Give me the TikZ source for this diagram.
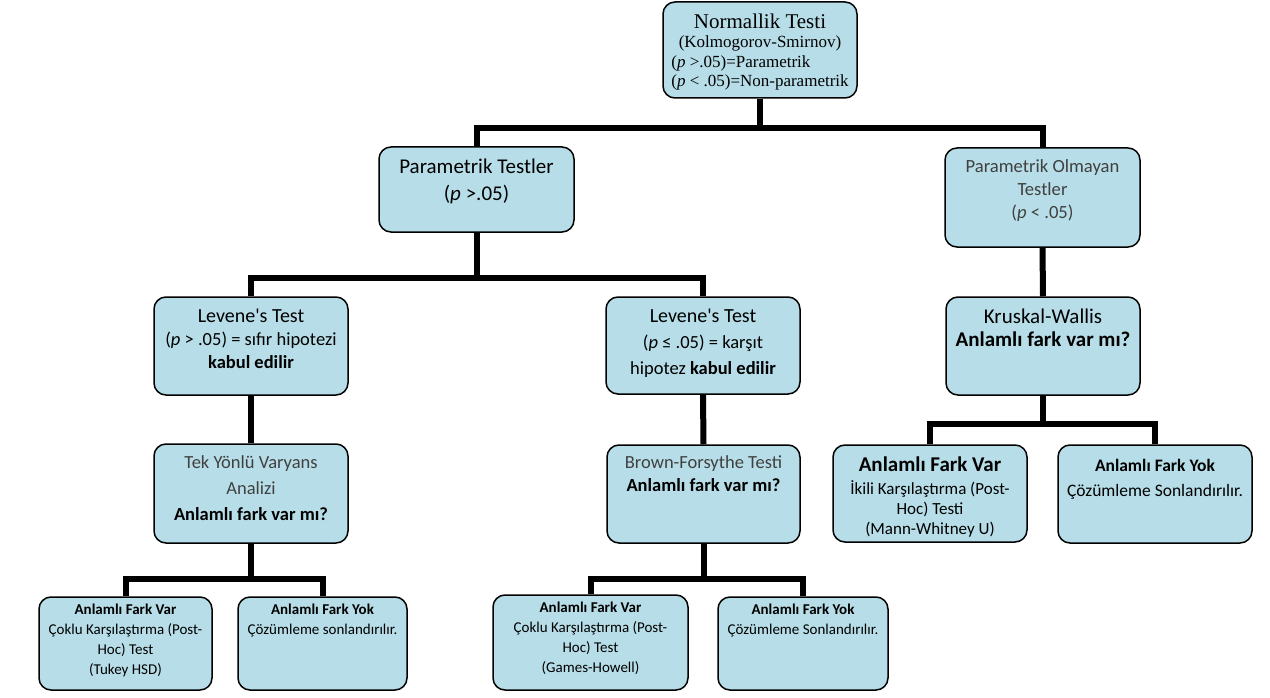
\documentclass[tikz,border=0pt]{standalone}
\usepackage{fontspec}
\setmainfont{Carlito}
\newfontfamily\tnr{Liberation Serif}
\usetikzlibrary{positioning}

\definecolor{kutumavi}{HTML}{B7DEE8}
\definecolor{koyugri}{HTML}{404040}

\newcommand{\boyut}[2]{\fontsize{#1}{#2}\selectfont}

\tikzset{
  kutu/.style={draw=black, line width=1.5pt, rounded corners=12pt, fill=kutumavi, inner sep=0pt},
  yazi/.style={align=center, inner sep=0pt, text=black},
  baglanti/.style={draw=black, line width=6pt}
}

\begin{document}
\begin{tikzpicture}[x=1pt, y=-1pt]
\useasboundingbox (0,0) rectangle (1270,698);

% Kutular
\node[kutu, minimum width=194pt, minimum height=96pt] (norm) at (760,50) {};
\node[kutu, minimum width=195pt, minimum height=85pt] (param) at (476.5,189.5) {};
\node[kutu, minimum width=195pt, minimum height=99pt] (nonparam) at (1042.5,197.5) {};
\node[kutu, minimum width=194pt, minimum height=98pt] (lev1) at (251,346) {};
\node[kutu, minimum width=194pt, minimum height=97pt] (lev2) at (703,345.5) {};
\node[kutu, minimum width=194pt, minimum height=98pt] (kw) at (1043,346) {};
\node[kutu, minimum width=194pt, minimum height=99pt] (anova) at (251,493.5) {};
\node[kutu, minimum width=193pt, minimum height=98pt] (bf) at (703.5,494) {};
\node[kutu, minimum width=194pt, minimum height=97pt] (kwvar) at (930,493.5) {};
\node[kutu, minimum width=194pt, minimum height=98pt] (kwyok) at (1155,494) {};
\node[kutu, minimum width=173pt, minimum height=93pt] (t1var) at (125.5,643.5) {};
\node[kutu, minimum width=169pt, minimum height=93pt] (t1yok) at (322.5,643.5) {};
\node[kutu, minimum width=195pt, minimum height=95pt] (t2var) at (590.5,642.5) {};
\node[kutu, minimum width=170pt, minimum height=93pt] (t2yok) at (803,643.5) {};

% Yazilar
\node[yazi, font=\tnr\boyut{17}{19.5}, below=12pt of norm.north] (normy)
  {{\boyut{21}{23}Normallik Testi}\\ (Kolmogorov-Smirnov)\\
   \begin{tabular}[t]{@{}l@{}}(\textit{p} >.05)=Parametrik\\(\textit{p} < .05)=Non-parametrik\end{tabular}};
\node[yazi, font=\boyut{21}{27}, below=12pt of param.north] (paramy)
  {Parametrik Testler\\(\textit{p} >.05)};
\node[yazi, font=\boyut{18.6}{23}, text=koyugri, below=12pt of nonparam.north] (nonparamy)
  {Parametrik Olmayan\\Testler\\(\textit{p} < .05)};
\node[yazi, font=\boyut{18.5}{23}, below=13pt of lev1.north] (lev1y)
  {{\boyut{20}{23}Levene\textquotesingle s Test}\\(\textit{p} > .05) = sıfır hipotezi\\\textbf{kabul edilir}};
\node[yazi, font=\boyut{18.5}{26}, below=13pt of lev2.north] (lev2y)
  {{\boyut{20}{23}Levene\textquotesingle s Test}\\(\textit{p} ≤ .05) = karşıt\\hipotez \textbf{kabul edilir}};
\node[yazi, font=\boyut{21}{23}, below=12pt of kw.north] (kwy)
  {Kruskal-Wallis\\\textbf{Anlamlı fark var mı?}};
\node[yazi, font=\boyut{18.5}{26}, text=koyugri, below=12pt of anova.north] (anovay)
  {Tek Yönlü Varyans\\Analizi\\\textcolor{black}{\textbf{Anlamlı fark var mı?}}};
\node[yazi, font=\boyut{18.5}{23}, text=koyugri, below=11pt of bf.north] (bfy)
  {Brown-Forsythe Testi\\\textcolor{black}{\textbf{Anlamlı fark var mı?}}};
\node[yazi, font=\boyut{17}{20}, below=12pt of kwvar.north] (kwvary)
  {{\boyut{21}{23}\textbf{Anlamlı Fark Var}}\\[3pt]İkili Karşılaştırma (Post-\\Hoc) Testi\\(Mann-Whitney U)};
\node[yazi, font=\boyut{17.5}{25}, below=15pt of kwyok.north] (kwyoky)
  {\textbf{Anlamlı Fark Yok}\\Çözümleme Sonlandırılır.};
\node[yazi, font=\boyut{15}{20}, below=7.5pt of t1var.north] (t1vary)
  {\textbf{Anlamlı Fark Var}\\Çoklu Karşılaştırma (Post-\\Hoc) Test\\(Tukey HSD)};
\node[yazi, font=\boyut{15}{20}, below=7.5pt of t1yok.north] (t1yoky)
  {\textbf{Anlamlı Fark Yok}\\Çözümleme sonlandırılır.};
\node[yazi, font=\boyut{15}{20}, below=7.5pt of t2var.north] (t2vary)
  {\textbf{Anlamlı Fark Var}\\Çoklu Karşılaştırma (Post-\\Hoc) Test\\(Games-Howell)};
\node[yazi, font=\boyut{15}{20}, below=7.5pt of t2yok.north] (t2yoky)
  {\textbf{Anlamlı Fark Yok}\\Çözümleme Sonlandırılır.};

% Baglantilar
\draw[baglanti] (norm.south) -- ++(0,29) -| (param.north);
\draw[baglanti] (norm.south) -- ++(0,29) -| (nonparam.north);
\draw[baglanti] (param.south) -- ++(0,45) -| (lev1.north);
\draw[baglanti] (param.south) -- ++(0,45) -| (lev2.north);
\draw[baglanti] (nonparam.south) -- (kw.north);
\draw[baglanti] (lev1.south) -- (anova.north);
\draw[baglanti] (lev2.south) -- (bf.north);
\draw[baglanti] (kw.south) -- ++(0,28) -| (kwvar.north);
\draw[baglanti] (kw.south) -- ++(0,28) -| (kwyok.north);
\draw[baglanti] (anova.south) -- ++(0,35) -| (t1var.north);
\draw[baglanti] (anova.south) -- ++(0,35) -| (t1yok.north);
\draw[baglanti] (bf.south) -- ++(0,35) -| (t2var.north);
\draw[baglanti] (bf.south) -- ++(0,35) -| (t2yok.north);

\end{tikzpicture}
\end{document}
